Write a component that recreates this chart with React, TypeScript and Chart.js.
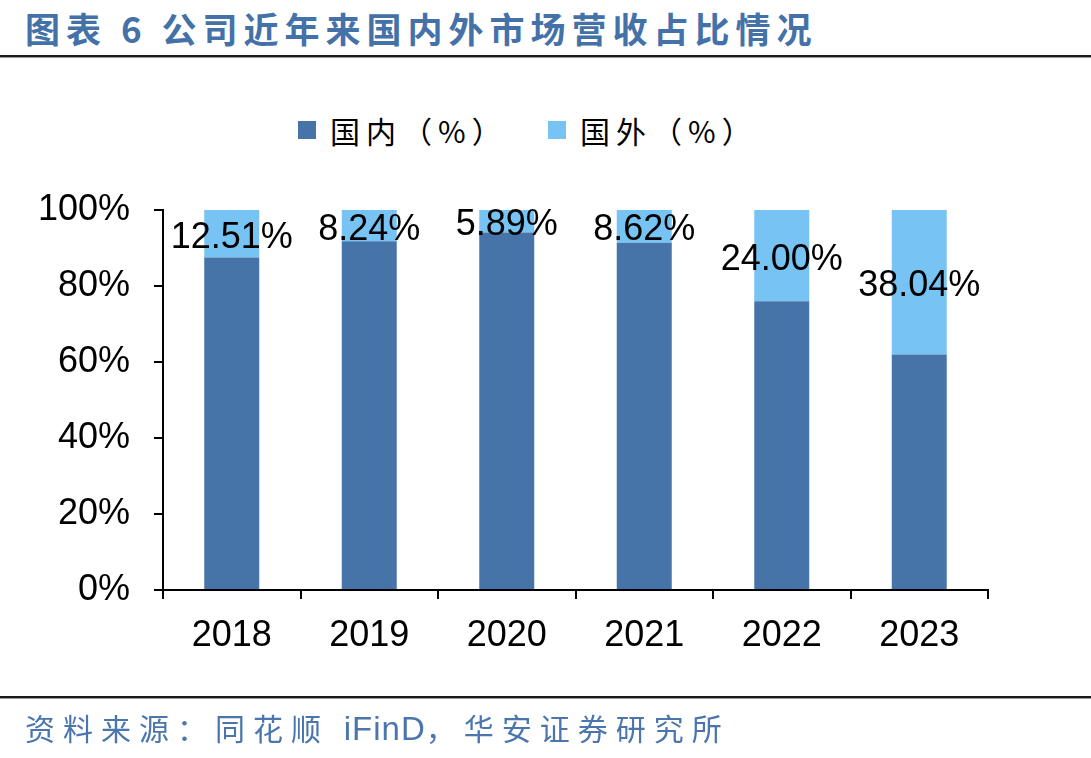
import React, { useEffect, useRef } from "react";
import { Chart, registerables } from "chart.js";

Chart.register(...registerables);

const years = ["2018", "2019", "2020", "2021", "2022", "2023"];
const domesticShare = [87.49, 91.76, 94.11, 91.38, 76.0, 61.96];
const overseasShare = [12.51, 8.24, 5.89, 8.62, 24.0, 38.04];
const seriesNames = ["国内（%）", "国外（%）"];
const yTicks = [0, 20, 40, 60, 80, 100];

const DOMESTIC = "#4674A8";
const OVERSEAS = "#77C3F3";
const NUM_FONT = "'Liberation Sans', Arial, sans-serif";
const CJK_FONT = "'Noto Sans CJK SC', sans-serif";

// Writes each overseas share in the middle of its segment
const segmentLabels = {
  id: "segmentLabels",
  afterDatasetsDraw(chart: any) {
    const ctx = chart.ctx;
    const meta = chart.getDatasetMeta(1);
    ctx.save();
    ctx.font = `36px ${NUM_FONT}`;
    ctx.fillStyle = "#000";
    ctx.textAlign = "center";
    ctx.textBaseline = "middle";
    meta.data.forEach((bar: any, i: number) => {
      const { x, y, base } = bar.getProps(["x", "y", "base"], true);
      ctx.fillText(overseasShare[i].toFixed(2) + "%", x, (y + base) / 2 + 4);
    });
    ctx.restore();
  },
};

export default function App() {
  const canvasRef = useRef<HTMLCanvasElement>(null);

  useEffect(() => {
    document.body.style.margin = "0";
    const chart = new Chart(canvasRef.current!, {
      type: "bar",
      data: {
        labels: years,
        datasets: [
          { label: seriesNames[0], data: domesticShare, backgroundColor: DOMESTIC },
          { label: seriesNames[1], data: overseasShare, backgroundColor: OVERSEAS },
        ],
      },
      options: {
        responsive: false,
        animation: false,
        devicePixelRatio: 1,
        layout: { padding: { top: 210, right: 103, left: 0, bottom: 0 } },
        datasets: { bar: { barPercentage: 0.4, categoryPercentage: 1 } },
        plugins: { legend: { display: false }, tooltip: { enabled: false } },
        scales: {
          x: {
            stacked: true,
            border: { display: true, color: "#000", width: 2 },
            grid: { offset: true, drawOnChartArea: false, drawTicks: true, tickLength: 9, color: "#000", lineWidth: 2 },
            ticks: { color: "#000", font: { family: NUM_FONT, size: 36 }, padding: 15 },
            afterFit: (s: any) => { s.height = 168; },
          },
          y: {
            stacked: true,
            min: 0,
            max: 100,
            afterBuildTicks: (s: any) => { s.ticks = yTicks.map((v) => ({ value: v })); },
            border: { display: true, color: "#000", width: 2 },
            grid: { drawOnChartArea: false, drawTicks: true, tickLength: 9, color: "#000", lineWidth: 2 },
            ticks: {
              color: "#000",
              font: { family: NUM_FONT, size: 36 },
              padding: 24,
              callback: (v: any) => v + "%",
            },
            afterFit: (s: any) => { s.width = 163; },
          },
        },
      },
      plugins: [segmentLabels],
    });
    return () => chart.destroy();
  }, []);

  const rule = (top: number) => (
    <>
      <div style={{ position: "absolute", left: 0, top, width: 1091, height: 2, background: "#1a1a1a" }} />
      <div style={{ position: "absolute", left: 0, top: top + 2, width: 1091, height: 1, background: "#9a9a9a" }} />
    </>
  );

  const legendItem = (left: number, color: string, text: string) => (
    <div style={{ position: "absolute", left, top: 112, height: 36, display: "flex", alignItems: "center" }}>
      <div style={{ width: 18, height: 18, background: color, marginRight: 14 }} />
      <span style={{ fontFamily: CJK_FONT, fontSize: 30, letterSpacing: 6, color: "#000", lineHeight: "36px" }}>{text}</span>
    </div>
  );

  return (
    <div style={{ position: "relative", width: 1091, height: 758, background: "#fff", overflow: "hidden" }}>
      <div
        style={{
          position: "absolute", left: 25, top: 10, fontFamily: CJK_FONT, fontWeight: 700,
          fontSize: 35, lineHeight: "35px", letterSpacing: 6, color: "#4472A8", whiteSpace: "pre",
        }}
      >
        图表 6 公司近年来国内外市场营收占比情况
      </div>
      {rule(55)}
      {legendItem(298, DOMESTIC, seriesNames[0])}
      {legendItem(548, OVERSEAS, seriesNames[1])}
      <canvas ref={canvasRef} width={1091} height={758} style={{ position: "absolute", left: 0, top: 0 }} />
      {rule(696)}
      <div
        style={{
          position: "absolute", left: 25, top: 712, fontFamily: CJK_FONT, fontSize: 30,
          lineHeight: "30px", letterSpacing: 8, color: "#4A76AD", whiteSpace: "pre",
        }}
      >
        资料来源：同花顺 <span style={{ fontFamily: NUM_FONT, fontSize: 33, letterSpacing: 1 }}>iFinD</span>，华安证券研究所
      </div>
    </div>
  );
}
